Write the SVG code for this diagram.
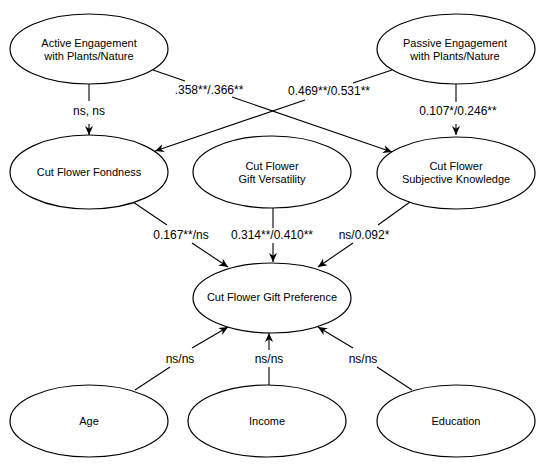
<svg xmlns="http://www.w3.org/2000/svg" width="550" height="466" viewBox="0 0 550 466">
<style>
.node ellipse{fill:#fff;stroke:#000;stroke-width:1.2}
.node text{font-family:"Liberation Sans",Arial,sans-serif;font-size:11px;fill:#000;text-anchor:middle}
.edges line{stroke:#000;stroke-width:1.1}
.edges text{font-family:"Liberation Sans",Arial,sans-serif;font-size:12px;fill:#000;text-anchor:middle}
.arr{marker-end:url(#ah)}
</style>
<defs>
<marker id="ah" viewBox="0 0 10 10" refX="10" refY="5" markerWidth="9" markerHeight="9" markerUnits="userSpaceOnUse" orient="auto">
<path d="M0,0.5 L10,5 L0,9.5 L3,5 z" fill="#000"/>
</marker>
</defs>
<rect width="550" height="466" fill="#fff"/>
<g class="edges" id="connectors">
<line x1="89" y1="84" x2="89" y2="101"/><line class="arr" x1="89" y1="124" x2="89" y2="135"/>
<text x="89" y="115">ns, ns</text>
<line x1="153" y1="70" x2="185" y2="81"/><line class="arr" x1="232" y1="97" x2="392" y2="152"/>
<text x="209" y="94">.358**/.366**</text>
<line x1="392" y1="70" x2="353" y2="83"/><line class="arr" x1="305" y1="100" x2="155" y2="151"/>
<text x="329" y="95">0.469**/0.531**</text>
<line x1="456" y1="84" x2="456" y2="102"/><line class="arr" x1="456" y1="124" x2="456" y2="135"/>
<text x="458" y="115">0.107*/0.246**</text>
<line x1="133" y1="202" x2="167" y2="225"/><line class="arr" x1="192" y1="243" x2="228" y2="267"/>
<text x="181" y="239">0.167**/ns</text>
<line x1="273" y1="208" x2="273" y2="228"/><line class="arr" x1="273" y1="243" x2="273" y2="262"/>
<text x="272" y="239">0.314**/0.410**</text>
<line x1="410" y1="202" x2="378" y2="225"/><line class="arr" x1="353" y1="243" x2="318" y2="267"/>
<text x="364" y="239">ns/0.092*</text>
<line x1="135" y1="390" x2="170" y2="367"/><line class="arr" x1="192" y1="348" x2="228" y2="327"/>
<text x="180" y="363">ns/ns</text>
<line x1="269" y1="385" x2="269" y2="367"/><line class="arr" x1="269" y1="350" x2="269" y2="333"/>
<text x="269" y="363">ns/ns</text>
<line x1="412" y1="390" x2="377" y2="367"/><line class="arr" x1="353" y1="348" x2="318" y2="327"/>
<text x="363" y="363">ns/ns</text>
</g>
<g class="node" id="active"><ellipse cx="89" cy="49" rx="79" ry="35"/><text x="89" y="47">Active Engagement</text><text x="89" y="60">with Plants/Nature</text></g>
<g class="node" id="passive"><ellipse cx="456" cy="49" rx="79" ry="35"/><text x="455" y="47">Passive Engagement</text><text x="455" y="60">with Plants/Nature</text></g>
<g class="node" id="fondness"><ellipse cx="89" cy="172" rx="79" ry="37"/><text x="89" y="176">Cut Flower Fondness</text></g>
<g class="node" id="versatility"><ellipse cx="272" cy="172" rx="79" ry="36"/><text x="272" y="170">Cut Flower</text><text x="272" y="183">Gift Versatility</text></g>
<g class="node" id="knowledge"><ellipse cx="456" cy="173" rx="79" ry="36"/><text x="456" y="170">Cut Flower</text><text x="456" y="183">Subjective Knowledge</text></g>
<g class="node" id="preference"><ellipse cx="272" cy="298" rx="79" ry="35"/><text x="272" y="301">Cut Flower Gift Preference</text></g>
<g class="node" id="age"><ellipse cx="89" cy="421" rx="79" ry="36"/><text x="89" y="425">Age</text></g>
<g class="node" id="income"><ellipse cx="267" cy="421" rx="79" ry="36"/><text x="267" y="425">Income</text></g>
<g class="node" id="education"><ellipse cx="456" cy="421" rx="79" ry="36"/><text x="456" y="425">Education</text></g>
</svg>
